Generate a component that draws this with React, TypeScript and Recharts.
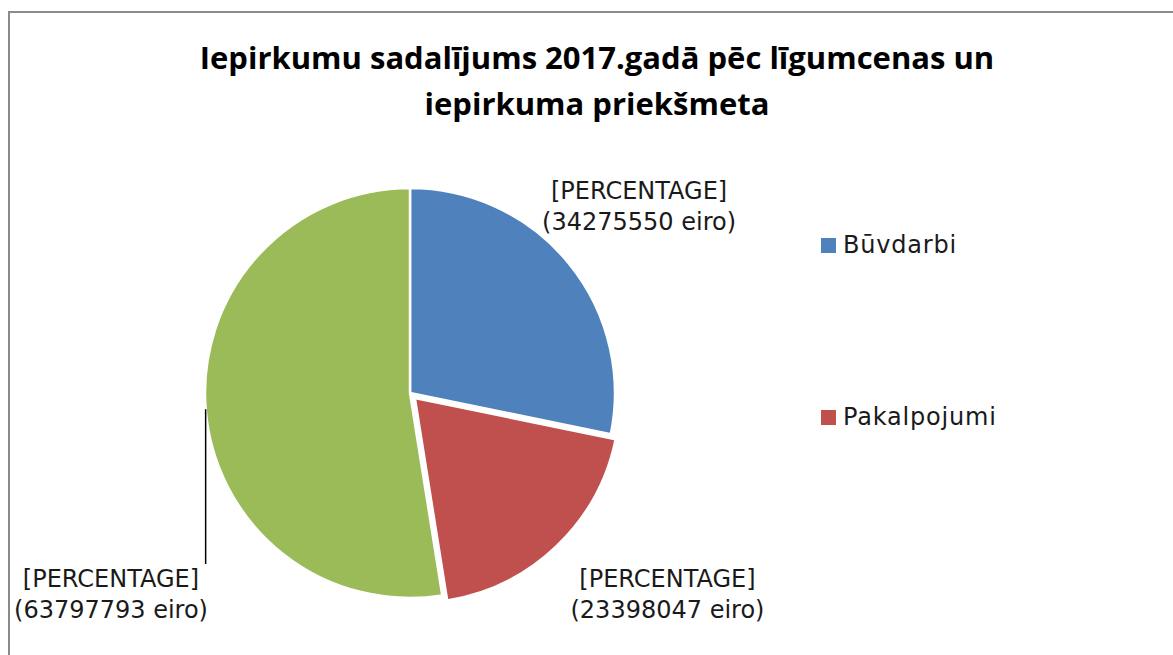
import { PieChart, Pie, Cell } from 'recharts';

// Iepirkumu sadalījums 2017. gadā (eiro)
const categories = ['Būvdarbi', 'Pakalpojumi', 'Piegādes'];
const amounts = [34275550, 23398047, 63797793];
const colors = ['#4f81bd', '#c0504d', '#9bbb59'];
const labelTitles = ['[PERCENTAGE]', '[PERCENTAGE]', '[PERCENTAGE]'];
const legendShown = ['Būvdarbi', 'Pakalpojumi'];

const EXPLODED = 1; // Pakalpojumi slice is pulled out a little
const CX = 410;
const CY = 393;
const R = 205;

// label placement relative to the slice mid angle: angle shift (deg) and radius factor
const labelShift = [0, 8.2, 29.5];
const labelDist = [1.442, 1.595, 1.76];

const data = categories.map((name, i) => ({ name, value: amounts[i] }));

const total = amounts.reduce((s, v) => s + v, 0);
const before = amounts.slice(0, EXPLODED).reduce((s, v) => s + v, 0);
const explodeMid = 90 - ((before + amounts[EXPLODED] / 2) / total) * 360;
const explodeDx = 7 * Math.cos((explodeMid * Math.PI) / 180);
const explodeDy = -7 * Math.sin((explodeMid * Math.PI) / 180);

const labelFont = "'DejaVu Sans', sans-serif";

function renderLabel(props: any) {
  const { cx, cy, midAngle, outerRadius, index, value } = props;
  const rad = Math.PI / 180;
  const a = (midAngle + labelShift[index]) * rad;
  const d = outerRadius * labelDist[index];
  const x = cx + d * Math.cos(a);
  const y = cy - d * Math.sin(a);
  const lines = [labelTitles[index], `(${value} eiro)`];
  let leader = null;
  if (index === 2) {
    const sx = cx + outerRadius * Math.cos(midAngle * rad);
    const sy = cy - outerRadius * Math.sin(midAngle * rad);
    leader = <line x1={sx} y1={sy} x2={sx} y2={y - 31} stroke="#000" strokeWidth={1.5} />;
  }
  return (
    <g key={`lbl-${index}`}>
      {leader}
      <text x={x} y={y} textAnchor="middle" fill="#1a1a1a" fontSize={24} fontFamily={labelFont}>
        <tspan x={x} y={y - 15.5} dominantBaseline="central">{lines[0]}</tspan>
        <tspan x={x} y={y + 15.5} dominantBaseline="central">{lines[1]}</tspan>
      </text>
    </g>
  );
}

function LegendBox() {
  return (
    <div style={{ position: 'absolute', left: 821, top: 228 }}>
      {categories.map((name, i) =>
        legendShown.includes(name) ? (
          <div
            key={name}
            style={{ display: 'flex', alignItems: 'center', height: 34, marginBottom: 138 }}
          >
            <span style={{ width: 15, height: 15, background: colors[i], marginRight: 7 }} />
            <span
              style={{ fontFamily: labelFont, fontSize: 24, letterSpacing: 0.8, color: '#1a1a1a' }}
            >
              {name}
            </span>
          </div>
        ) : null
      )}
    </div>
  );
}

export default function App() {
  return (
    <div
      style={{
        position: 'fixed',
        left: 0,
        top: 0,
        width: 1173,
        height: 655,
        background: '#fff',
        overflow: 'hidden',
      }}
    >
      <div
        style={{
          position: 'absolute',
          left: 8,
          top: 11,
          width: 1176,
          height: 700,
          borderLeft: '2px solid #8a8a8a',
          borderTop: '2px solid #8a8a8a',
        }}
      />
      <div
        style={{
          position: 'absolute',
          left: 10,
          top: 34,
          width: 1174,
          textAlign: 'center',
          fontFamily: "'Open Sans', sans-serif",
          fontWeight: 700,
          fontSize: 31,
          lineHeight: '46px',
          color: '#000',
        }}
      >
        Iepirkumu sadalījums 2017.gadā pēc līgumcenas un
        <br />
        iepirkuma priekšmeta
      </div>
      <div style={{ position: 'absolute', left: 0, top: 0 }}>
        <PieChart width={1173} height={655} margin={{ top: 0, right: 0, bottom: 0, left: 0 }}>
          <Pie
            data={data}
            dataKey="value"
            nameKey="name"
            cx={CX}
            cy={CY}
            outerRadius={R}
            startAngle={90}
            endAngle={-270}
            stroke="#fff"
            strokeWidth={2.5}
            label={renderLabel}
            labelLine={false}
            isAnimationActive={false}
          >
            {data.map((d, i) => (
              <Cell
                key={d.name}
                fill={i === EXPLODED ? 'transparent' : colors[i]}
                stroke={i === EXPLODED ? 'none' : '#fff'}
              />
            ))}
          </Pie>
          <Pie
            data={data}
            dataKey="value"
            nameKey="name"
            cx={CX + explodeDx}
            cy={CY + explodeDy}
            outerRadius={R}
            startAngle={90}
            endAngle={-270}
            stroke="#fff"
            strokeWidth={2.5}
            legendType="none"
            isAnimationActive={false}
          >
            {data.map((d, i) => (
              <Cell
                key={d.name}
                fill={i === EXPLODED ? colors[i] : 'transparent'}
                stroke={i === EXPLODED ? '#fff' : 'none'}
              />
            ))}
          </Pie>
        </PieChart>
      </div>
      <LegendBox />
    </div>
  );
}
